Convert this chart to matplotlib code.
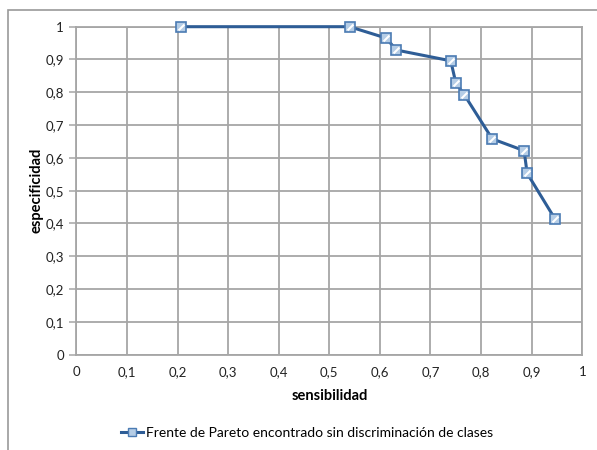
import matplotlib
matplotlib.use("Agg")
import matplotlib.pyplot as plt
from matplotlib.patches import Rectangle
from matplotlib.lines import Line2D

sensibilidad = [0.207, 0.540, 0.613, 0.632, 0.740, 0.750, 0.767, 0.822, 0.885, 0.891, 0.946]
especificidad = [1.000, 1.000, 0.965, 0.929, 0.896, 0.829, 0.792, 0.658, 0.622, 0.553, 0.414]
x_ticks = [0, 0.1, 0.2, 0.3, 0.4, 0.5, 0.6, 0.7, 0.8, 0.9, 1.0]
y_ticks = [0, 0.1, 0.2, 0.3, 0.4, 0.5, 0.6, 0.7, 0.8, 0.9, 1.0]
serie = "Frente de Pareto encontrado sin discriminación de clases"

plt.rcParams['font.family'] = ['Lato', 'DejaVu Sans']

fig = plt.figure(figsize=(5.97, 4.5), dpi=100)
W, H = 597, 450
ax = fig.add_axes([76.3 / W, 1 - 354.7 / H, (582.3 - 76.3) / W, (354.7 - 26.7) / H])

grid_c = '#a6a6a6'
line_c = '#2e5d96'

ax.set_xlim(0, 1)
ax.set_ylim(0, 1)
ax.set_xticks(x_ticks)
ax.set_yticks(y_ticks)
fmt = lambda v: ('%g' % v).replace('.', ',')
ax.set_xticklabels([fmt(v) for v in x_ticks], fontsize=9.5, color='#222222')
ax.set_yticklabels([fmt(v) for v in y_ticks], fontsize=9.5, color='#222222')
ax.grid(True, color=grid_c, linewidth=1.3)
ax.set_axisbelow(True)
for s in ax.spines.values():
    s.set_color(grid_c)
    s.set_linewidth(1.3)
ax.tick_params(axis='y', length=5, width=1.1, color=grid_c, pad=4)
ax.tick_params(axis='x', length=0, pad=8)

ax.plot(sensibilidad, especificidad, color=line_c, linewidth=2.2, zorder=3, clip_on=False)
ax.plot(sensibilidad, especificidad, linestyle='none', marker='s', markersize=7,
        markerfacecolor='#b5cde6', markeredgecolor='#4b7bb3', markeredgewidth=1.2,
        zorder=4, clip_on=False)
ax.plot(sensibilidad, especificidad, linestyle='none', marker=(2, 0, -45), markersize=6,
        markeredgecolor='white', markeredgewidth=1.5, zorder=5, clip_on=False)

ax.set_xlabel('sensibilidad', fontsize=10.5, fontweight='bold', labelpad=8)
ax.set_ylabel('especificidad', fontsize=10.5, fontweight='bold', labelpad=1)

h = (Line2D([], [], color=line_c, linewidth=2.2, marker='s', markersize=6,
            markerfacecolor='#b5cde6', markeredgecolor='#4b7bb3'),)
fig.legend(h, [serie], loc='center', bbox_to_anchor=(307 / W, 1 - 433 / H),
           frameon=False, fontsize=10, handlelength=1.6, handletextpad=0.2)

fig.patches.append(Rectangle((8 / W, -0.1), 1.2, 1 - 10 / H + 0.1, transform=fig.transFigure,
                             fill=False, edgecolor='#9a9a9a', linewidth=1.2))

fig.savefig('out.png', dpi=100)
